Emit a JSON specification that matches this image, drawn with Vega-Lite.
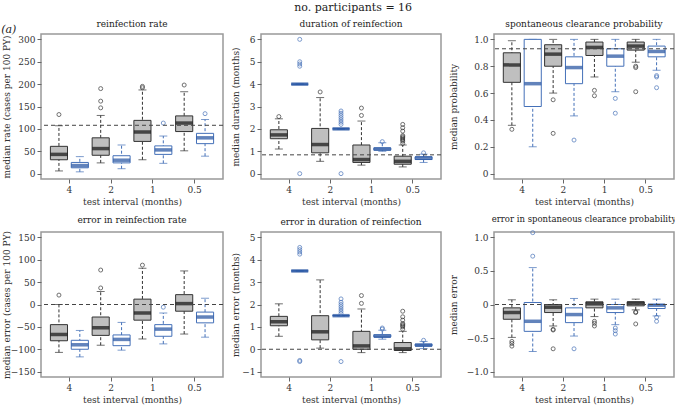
{
"$schema": "https://vega.github.io/schema/vega-lite/v6.json",
"padding": {"left": 1, "right": 2, "top": 2, "bottom": 0},
"background": "white",
"title": {"text": "no. participants = 16", "fontSize": 11, "anchor": "middle", "dx": 14, "offset": 6, "font": "'DejaVu Serif', serif", "fontWeight": "normal", "color": "#222222"},
"config": {
  "font": "'DejaVu Serif', serif",
  "view": {"stroke": "#999999", "strokeWidth": 1.5},
  "title": {"font": "'DejaVu Serif', serif", "fontSize": 9, "fontWeight": "normal", "color": "#222222", "offset": 5, "limit": 1000},
  "axis": {"labelFont": "'DejaVu Serif', serif", "titleFont": "'DejaVu Serif', serif", "labelFontSize": 9, "titleFontSize": 9, "titleFontWeight": "normal", "labelColor": "#333333", "titleColor": "#333333", "tickColor": "#666666", "domain": false, "grid": false, "tickSize": 4, "labelPadding": 2, "labelOverlap": false, "titleLimit": 1000},
  "axisX": {"titlePadding": 3}
},
"datasets": {
  "boxes": [
    {"p":"rate","iv":"4","g":"grey","lo":6,"q1":31,"med":43,"q3":61,"hi":107},
    {"p":"rate","iv":"4","g":"blue","lo":4,"q1":13,"med":18,"q3":25,"hi":38},
    {"p":"rate","iv":"2","g":"grey","lo":24,"q1":41,"med":56,"q3":80,"hi":130},
    {"p":"rate","iv":"2","g":"blue","lo":11,"q1":24,"med":30,"q3":40,"hi":64},
    {"p":"rate","iv":"1","g":"grey","lo":31,"q1":72,"med":93,"q3":119,"hi":187},
    {"p":"rate","iv":"1","g":"blue","lo":23,"q1":43,"med":53,"q3":62,"hi":84},
    {"p":"rate","iv":"0.5","g":"grey","lo":51,"q1":94,"med":113,"q3":129,"hi":183},
    {"p":"rate","iv":"0.5","g":"blue","lo":39,"q1":67,"med":80,"q3":90,"hi":121},
    {"p":"dur","iv":"4","g":"grey","lo":1.1,"q1":1.56,"med":1.73,"q3":1.96,"hi":2.45},
    {"p":"dur","iv":"4","g":"blue","lo":4,"q1":4,"med":4,"q3":4,"hi":4},
    {"p":"dur","iv":"2","g":"grey","lo":0.55,"q1":0.93,"med":1.3,"q3":2.02,"hi":3.4},
    {"p":"dur","iv":"2","g":"blue","lo":2,"q1":2,"med":2,"q3":2,"hi":2},
    {"p":"dur","iv":"1","g":"grey","lo":0.38,"q1":0.5,"med":0.63,"q3":1.28,"hi":2.35},
    {"p":"dur","iv":"1","g":"blue","lo":1.0,"q1":1.05,"med":1.1,"q3":1.15,"hi":1.38},
    {"p":"dur","iv":"0.5","g":"grey","lo":0.3,"q1":0.42,"med":0.55,"q3":0.78,"hi":1.28},
    {"p":"dur","iv":"0.5","g":"blue","lo":0.5,"q1":0.63,"med":0.7,"q3":0.75,"hi":0.87},
    {"p":"prob","iv":"4","g":"grey","lo":0.36,"q1":0.68,"med":0.81,"q3":0.9,"hi":0.99},
    {"p":"prob","iv":"4","g":"blue","lo":0.2,"q1":0.5,"med":0.67,"q3":1.0,"hi":1.0},
    {"p":"prob","iv":"2","g":"grey","lo":0.6,"q1":0.8,"med":0.89,"q3":0.96,"hi":1.0},
    {"p":"prob","iv":"2","g":"blue","lo":0.43,"q1":0.67,"med":0.79,"q3":0.87,"hi":1.0},
    {"p":"prob","iv":"1","g":"grey","lo":0.72,"q1":0.88,"med":0.94,"q3":0.98,"hi":1.0},
    {"p":"prob","iv":"1","g":"blue","lo":0.61,"q1":0.8,"med":0.875,"q3":0.93,"hi":1.0},
    {"p":"prob","iv":"0.5","g":"grey","lo":0.83,"q1":0.92,"med":0.95,"q3":0.98,"hi":1.0},
    {"p":"prob","iv":"0.5","g":"blue","lo":0.77,"q1":0.87,"med":0.91,"q3":0.95,"hi":1.0},
    {"p":"erate","iv":"4","g":"grey","lo":-107,"q1":-81,"med":-67,"q3":-45,"hi":0},
    {"p":"erate","iv":"4","g":"blue","lo":-117,"q1":-100,"med":-90,"q3":-80,"hi":-58},
    {"p":"erate","iv":"2","g":"grey","lo":-91,"q1":-69,"med":-52,"q3":-28,"hi":29},
    {"p":"erate","iv":"2","g":"blue","lo":-102,"q1":-92,"med":-78,"q3":-68,"hi":-40},
    {"p":"erate","iv":"1","g":"grey","lo":-77,"q1":-35,"med":-19,"q3":12,"hi":81},
    {"p":"erate","iv":"1","g":"blue","lo":-88,"q1":-71,"med":-55,"q3":-45,"hi":-19},
    {"p":"erate","iv":"0.5","g":"grey","lo":-66,"q1":-15,"med":2,"q3":22,"hi":75},
    {"p":"erate","iv":"0.5","g":"blue","lo":-73,"q1":-41,"med":-28,"q3":-17,"hi":14},
    {"p":"edur","iv":"4","g":"grey","lo":0.58,"q1":1.05,"med":1.23,"q3":1.47,"hi":2.03},
    {"p":"edur","iv":"4","g":"blue","lo":3.5,"q1":3.5,"med":3.5,"q3":3.5,"hi":3.5},
    {"p":"edur","iv":"2","g":"grey","lo":0.05,"q1":0.42,"med":0.78,"q3":1.5,"hi":3.1},
    {"p":"edur","iv":"2","g":"blue","lo":1.5,"q1":1.5,"med":1.5,"q3":1.5,"hi":1.5},
    {"p":"edur","iv":"1","g":"grey","lo":-0.15,"q1":0.0,"med":0.15,"q3":0.8,"hi":1.8},
    {"p":"edur","iv":"1","g":"blue","lo":0.45,"q1":0.55,"med":0.58,"q3":0.65,"hi":0.85},
    {"p":"edur","iv":"0.5","g":"grey","lo":-0.15,"q1":-0.05,"med":0.02,"q3":0.3,"hi":0.8},
    {"p":"edur","iv":"0.5","g":"blue","lo":0.03,"q1":0.15,"med":0.18,"q3":0.23,"hi":0.35},
    {"p":"eprob","iv":"4","g":"grey","lo":-0.49,"q1":-0.22,"med":-0.12,"q3":-0.05,"hi":0.07},
    {"p":"eprob","iv":"4","g":"blue","lo":-0.7,"q1":-0.4,"med":-0.25,"q3":0.03,"hi":0.55},
    {"p":"eprob","iv":"2","g":"grey","lo":-0.32,"q1":-0.12,"med":-0.04,"q3":0.0,"hi":0.07},
    {"p":"eprob","iv":"2","g":"blue","lo":-0.47,"q1":-0.27,"med":-0.15,"q3":-0.05,"hi":0.09},
    {"p":"eprob","iv":"1","g":"grey","lo":-0.18,"q1":-0.05,"med":0.01,"q3":0.04,"hi":0.08},
    {"p":"eprob","iv":"1","g":"blue","lo":-0.3,"q1":-0.12,"med":-0.05,"q3":0.0,"hi":0.08},
    {"p":"eprob","iv":"0.5","g":"grey","lo":-0.08,"q1":-0.02,"med":0.02,"q3":0.04,"hi":0.08},
    {"p":"eprob","iv":"0.5","g":"blue","lo":-0.17,"q1":-0.06,"med":-0.01,"q3":0.0,"hi":0.08}
  ],
  "outs": [
    {"p":"rate","iv":"4","g":"grey","v":132},
    {"p":"rate","iv":"2","g":"grey","v":147},{"p":"rate","iv":"2","g":"grey","v":162},{"p":"rate","iv":"2","g":"grey","v":190},
    {"p":"rate","iv":"1","g":"grey","v":192},{"p":"rate","iv":"1","g":"grey","v":195},
    {"p":"rate","iv":"1","g":"blue","v":113},
    {"p":"rate","iv":"0.5","g":"grey","v":198},
    {"p":"rate","iv":"0.5","g":"blue","v":134},
    {"p":"dur","iv":"4","g":"grey","v":2.55},
    {"p":"dur","iv":"4","g":"blue","v":0},{"p":"dur","iv":"4","g":"blue","v":4.8},{"p":"dur","iv":"4","g":"blue","v":4.9},{"p":"dur","iv":"4","g":"blue","v":5.0},{"p":"dur","iv":"4","g":"blue","v":6.0},
    {"p":"dur","iv":"2","g":"grey","v":3.65},
    {"p":"dur","iv":"2","g":"blue","v":0},{"p":"dur","iv":"2","g":"blue","v":2.2},{"p":"dur","iv":"2","g":"blue","v":2.3},{"p":"dur","iv":"2","g":"blue","v":2.4},{"p":"dur","iv":"2","g":"blue","v":2.5},{"p":"dur","iv":"2","g":"blue","v":2.6},{"p":"dur","iv":"2","g":"blue","v":2.7},{"p":"dur","iv":"2","g":"blue","v":2.8},
    {"p":"dur","iv":"1","g":"grey","v":2.6},{"p":"dur","iv":"1","g":"grey","v":2.93},
    {"p":"dur","iv":"1","g":"blue","v":1.43},
    {"p":"dur","iv":"0.5","g":"grey","v":1.35},{"p":"dur","iv":"0.5","g":"grey","v":1.45},{"p":"dur","iv":"0.5","g":"grey","v":1.5},{"p":"dur","iv":"0.5","g":"grey","v":1.55},{"p":"dur","iv":"0.5","g":"grey","v":1.6},{"p":"dur","iv":"0.5","g":"grey","v":1.65},{"p":"dur","iv":"0.5","g":"grey","v":1.7},{"p":"dur","iv":"0.5","g":"grey","v":1.9},{"p":"dur","iv":"0.5","g":"grey","v":2.05},{"p":"dur","iv":"0.5","g":"grey","v":2.2},
    {"p":"dur","iv":"0.5","g":"blue","v":0.93},
    {"p":"prob","iv":"4","g":"grey","v":0.33},
    {"p":"prob","iv":"2","g":"grey","v":0.55},{"p":"prob","iv":"2","g":"grey","v":0.3},
    {"p":"prob","iv":"2","g":"blue","v":0.25},
    {"p":"prob","iv":"1","g":"grey","v":0.62},{"p":"prob","iv":"1","g":"grey","v":0.58},
    {"p":"prob","iv":"1","g":"blue","v":0.56},{"p":"prob","iv":"1","g":"blue","v":0.45},
    {"p":"prob","iv":"0.5","g":"grey","v":0.79},{"p":"prob","iv":"0.5","g":"grey","v":0.8},{"p":"prob","iv":"0.5","g":"grey","v":0.61},
    {"p":"prob","iv":"0.5","g":"blue","v":0.72},{"p":"prob","iv":"0.5","g":"blue","v":0.73},{"p":"prob","iv":"0.5","g":"blue","v":0.64},
    {"p":"erate","iv":"4","g":"grey","v":21},
    {"p":"erate","iv":"2","g":"grey","v":37},{"p":"erate","iv":"2","g":"grey","v":77},
    {"p":"erate","iv":"1","g":"grey","v":88},
    {"p":"erate","iv":"1","g":"blue","v":-6},
    {"p":"edur","iv":"4","g":"blue","v":4.25},{"p":"edur","iv":"4","g":"blue","v":4.35},{"p":"edur","iv":"4","g":"blue","v":4.45},{"p":"edur","iv":"4","g":"blue","v":4.55},{"p":"edur","iv":"4","g":"blue","v":-0.5},{"p":"edur","iv":"4","g":"blue","v":-0.55},
    {"p":"edur","iv":"2","g":"blue","v":1.6},{"p":"edur","iv":"2","g":"blue","v":1.7},{"p":"edur","iv":"2","g":"blue","v":1.8},{"p":"edur","iv":"2","g":"blue","v":1.9},{"p":"edur","iv":"2","g":"blue","v":2.0},{"p":"edur","iv":"2","g":"blue","v":2.1},{"p":"edur","iv":"2","g":"blue","v":2.25},{"p":"edur","iv":"2","g":"blue","v":-0.55},
    {"p":"edur","iv":"1","g":"grey","v":2.05},{"p":"edur","iv":"1","g":"grey","v":2.4},
    {"p":"edur","iv":"1","g":"blue","v":0.9},{"p":"edur","iv":"1","g":"blue","v":0.95},
    {"p":"edur","iv":"0.5","g":"grey","v":0.9},{"p":"edur","iv":"0.5","g":"grey","v":1.0},{"p":"edur","iv":"0.5","g":"grey","v":1.05},{"p":"edur","iv":"0.5","g":"grey","v":1.1},{"p":"edur","iv":"0.5","g":"grey","v":1.15},{"p":"edur","iv":"0.5","g":"grey","v":1.3},{"p":"edur","iv":"0.5","g":"grey","v":1.45},{"p":"edur","iv":"0.5","g":"grey","v":1.7},
    {"p":"edur","iv":"0.5","g":"blue","v":0.4},
    {"p":"eprob","iv":"4","g":"grey","v":-0.55},{"p":"eprob","iv":"4","g":"grey","v":-0.58},{"p":"eprob","iv":"4","g":"grey","v":-0.62},
    {"p":"eprob","iv":"4","g":"blue","v":0.72},{"p":"eprob","iv":"4","g":"blue","v":1.07},
    {"p":"eprob","iv":"2","g":"grey","v":-0.37},{"p":"eprob","iv":"2","g":"grey","v":-0.38},{"p":"eprob","iv":"2","g":"grey","v":-0.66},
    {"p":"eprob","iv":"2","g":"blue","v":-0.66},
    {"p":"eprob","iv":"1","g":"grey","v":-0.25},{"p":"eprob","iv":"1","g":"grey","v":-0.28},{"p":"eprob","iv":"1","g":"grey","v":-0.32},
    {"p":"eprob","iv":"1","g":"blue","v":-0.35},{"p":"eprob","iv":"1","g":"blue","v":-0.39},{"p":"eprob","iv":"1","g":"blue","v":-0.44},
    {"p":"eprob","iv":"0.5","g":"grey","v":-0.11},{"p":"eprob","iv":"0.5","g":"grey","v":-0.12},{"p":"eprob","iv":"0.5","g":"grey","v":-0.29},
    {"p":"eprob","iv":"0.5","g":"blue","v":-0.19},{"p":"eprob","iv":"0.5","g":"blue","v":-0.25}
  ],
  "refs": [
    {"p":"rate","ref":108},{"p":"dur","ref":0.84},{"p":"prob","ref":0.93},
    {"p":"erate","ref":0},{"p":"edur","ref":0},{"p":"eprob","ref":0}
  ]
},
"spacing": 7,
"vconcat": [
 {"title": {"text": "(a)", "anchor": "start", "fontStyle": "italic", "fontSize": 11, "offset": -16},
  "spacing": 5,
  "hconcat": [
   {"width": 182, "height": 145, "title": {"text": "reinfection rate", "frame": "group", "limit": 400},
    "layer": [
     {"data":{"name":"boxes"},"transform":[{"filter":"datum.p==='rate'"}],"mark":{"type":"rule","strokeDash":[3,2],"strokeWidth":1},
      "encoding":{"x":{"field":"iv","type":"nominal","sort":["4","2","1","0.5"],"scale":{"paddingInner":0,"paddingOuter":0.18},"axis":{"title":"test interval (months)","labelAngle":0}},
       "xOffset":{"field":"g","type":"nominal","sort":["grey","blue"],"scale":{"paddingInner":0.18,"paddingOuter":0.09}},
       "y":{"field":"lo","type":"quantitative","scale":{"domain":[-12,312],"nice":false,"zero":false},"axis":{"values":[0,50,100,150,200,250,300],"format":"d","tickCount":20,"labelOverlap":false,"title":"median rate (cases per 100 PY)","minExtent":30,"maxExtent":30,"titlePadding":0}},
       "y2":{"field":"hi"},
       "stroke":{"condition":{"test":"datum.g==='grey'","value":"#333333"},"value":"#4470b8"}}},
     {"data":{"name":"boxes"},"transform":[{"filter":"datum.p==='rate'"}],"mark":{"type":"tick","orient":"horizontal","size":8,"thickness":1},
      "encoding":{"x":{"field":"iv","type":"nominal","sort":["4","2","1","0.5"]},"xOffset":{"field":"g","type":"nominal","sort":["grey","blue"]},
       "y":{"field":"lo","type":"quantitative"},"color":{"condition":{"test":"datum.g==='grey'","value":"#333333"},"value":"#4470b8"}}},
     {"data":{"name":"boxes"},"transform":[{"filter":"datum.p==='rate'"}],"mark":{"type":"tick","orient":"horizontal","size":8,"thickness":1},
      "encoding":{"x":{"field":"iv","type":"nominal","sort":["4","2","1","0.5"]},"xOffset":{"field":"g","type":"nominal","sort":["grey","blue"]},
       "y":{"field":"hi","type":"quantitative"},"color":{"condition":{"test":"datum.g==='grey'","value":"#333333"},"value":"#4470b8"}}},
     {"data":{"name":"boxes"},"transform":[{"filter":"datum.p==='rate'"}],"mark":{"type":"bar","strokeWidth":1},
      "encoding":{"x":{"field":"iv","type":"nominal","sort":["4","2","1","0.5"]},"xOffset":{"field":"g","type":"nominal","sort":["grey","blue"]},
       "y":{"field":"q1","type":"quantitative"},"y2":{"field":"q3"},
       "fill":{"condition":{"test":"datum.g==='grey'","value":"#bfbfbf"},"value":"#ffffff"},
       "stroke":{"condition":{"test":"datum.g==='grey'","value":"#333333"},"value":"#4470b8"}}},
     {"data":{"name":"boxes"},"transform":[{"filter":"datum.p==='rate'"}],"mark":{"type":"tick","orient":"horizontal","size":17,"thickness":3.5},
      "encoding":{"x":{"field":"iv","type":"nominal","sort":["4","2","1","0.5"]},"xOffset":{"field":"g","type":"nominal","sort":["grey","blue"]},
       "y":{"field":"med","type":"quantitative"},"color":{"condition":{"test":"datum.g==='grey'","value":"#111111"},"value":"#1f4f9e"}}},
     {"data":{"name":"outs"},"transform":[{"filter":"datum.p==='rate'"}],"mark":{"type":"point","shape":"circle","filled":false,"size":16,"strokeWidth":1},
      "encoding":{"x":{"field":"iv","type":"nominal","sort":["4","2","1","0.5"]},"xOffset":{"field":"g","type":"nominal","sort":["grey","blue"]},
       "y":{"field":"v","type":"quantitative"},"color":{"condition":{"test":"datum.g==='grey'","value":"#333333"},"value":"#4470b8"}}},
     {"data":{"name":"refs"},"transform":[{"filter":"datum.p==='rate'"}],"mark":{"type":"rule","strokeDash":[4,3],"color":"#444444","strokeWidth":1},
      "encoding":{"y":{"field":"ref","type":"quantitative"}}}
    ]},
   {"width": 180, "height": 145, "title": {"text": "duration of reinfection", "frame": "group", "limit": 400},
    "layer": [
     {"data":{"name":"boxes"},"transform":[{"filter":"datum.p==='dur'"}],"mark":{"type":"rule","strokeDash":[3,2],"strokeWidth":1},
      "encoding":{"x":{"field":"iv","type":"nominal","sort":["4","2","1","0.5"],"scale":{"paddingInner":0,"paddingOuter":0.18},"axis":{"title":"test interval (months)","labelAngle":0}},
       "xOffset":{"field":"g","type":"nominal","sort":["grey","blue"],"scale":{"paddingInner":0.18,"paddingOuter":0.09}},
       "y":{"field":"lo","type":"quantitative","scale":{"domain":[-0.24,6.24],"nice":false,"zero":false},"axis":{"values":[0,1,2,3,4,5,6],"format":"d","tickCount":20,"labelOverlap":false,"title":"median duration (months)","minExtent":20,"maxExtent":20,"titlePadding":1}},
       "y2":{"field":"hi"},
       "stroke":{"condition":{"test":"datum.g==='grey'","value":"#333333"},"value":"#4470b8"}}},
     {"data":{"name":"boxes"},"transform":[{"filter":"datum.p==='dur'"}],"mark":{"type":"tick","orient":"horizontal","size":8,"thickness":1},
      "encoding":{"x":{"field":"iv","type":"nominal","sort":["4","2","1","0.5"]},"xOffset":{"field":"g","type":"nominal","sort":["grey","blue"]},
       "y":{"field":"lo","type":"quantitative"},"color":{"condition":{"test":"datum.g==='grey'","value":"#333333"},"value":"#4470b8"}}},
     {"data":{"name":"boxes"},"transform":[{"filter":"datum.p==='dur'"}],"mark":{"type":"tick","orient":"horizontal","size":8,"thickness":1},
      "encoding":{"x":{"field":"iv","type":"nominal","sort":["4","2","1","0.5"]},"xOffset":{"field":"g","type":"nominal","sort":["grey","blue"]},
       "y":{"field":"hi","type":"quantitative"},"color":{"condition":{"test":"datum.g==='grey'","value":"#333333"},"value":"#4470b8"}}},
     {"data":{"name":"boxes"},"transform":[{"filter":"datum.p==='dur'"}],"mark":{"type":"bar","strokeWidth":1},
      "encoding":{"x":{"field":"iv","type":"nominal","sort":["4","2","1","0.5"]},"xOffset":{"field":"g","type":"nominal","sort":["grey","blue"]},
       "y":{"field":"q1","type":"quantitative"},"y2":{"field":"q3"},
       "fill":{"condition":{"test":"datum.g==='grey'","value":"#bfbfbf"},"value":"#ffffff"},
       "stroke":{"condition":{"test":"datum.g==='grey'","value":"#333333"},"value":"#4470b8"}}},
     {"data":{"name":"boxes"},"transform":[{"filter":"datum.p==='dur'"}],"mark":{"type":"tick","orient":"horizontal","size":17,"thickness":3.5},
      "encoding":{"x":{"field":"iv","type":"nominal","sort":["4","2","1","0.5"]},"xOffset":{"field":"g","type":"nominal","sort":["grey","blue"]},
       "y":{"field":"med","type":"quantitative"},"color":{"condition":{"test":"datum.g==='grey'","value":"#111111"},"value":"#1f4f9e"}}},
     {"data":{"name":"outs"},"transform":[{"filter":"datum.p==='dur'"}],"mark":{"type":"point","shape":"circle","filled":false,"size":16,"strokeWidth":1},
      "encoding":{"x":{"field":"iv","type":"nominal","sort":["4","2","1","0.5"]},"xOffset":{"field":"g","type":"nominal","sort":["grey","blue"]},
       "y":{"field":"v","type":"quantitative"},"color":{"condition":{"test":"datum.g==='grey'","value":"#333333"},"value":"#4470b8"}}},
     {"data":{"name":"refs"},"transform":[{"filter":"datum.p==='dur'"}],"mark":{"type":"rule","strokeDash":[4,3],"color":"#444444","strokeWidth":1},
      "encoding":{"y":{"field":"ref","type":"quantitative"}}}
    ]},
   {"width": 180, "height": 145, "title": {"text": "spontaneous clearance probability", "frame": "group", "limit": 400},
    "layer": [
     {"data":{"name":"boxes"},"transform":[{"filter":"datum.p==='prob'"}],"mark":{"type":"rule","strokeDash":[3,2],"strokeWidth":1},
      "encoding":{"x":{"field":"iv","type":"nominal","sort":["4","2","1","0.5"],"scale":{"paddingInner":0,"paddingOuter":0.18},"axis":{"title":"test interval (months)","labelAngle":0}},
       "xOffset":{"field":"g","type":"nominal","sort":["grey","blue"],"scale":{"paddingInner":0.18,"paddingOuter":0.09}},
       "y":{"field":"lo","type":"quantitative","scale":{"domain":[-0.04,1.04],"nice":false,"zero":false},"axis":{"values":[0,0.2,0.4,0.6,0.8,1],"tickCount":20,"labelOverlap":false,"labelExpr":"datum.value === 0 ? '0' : format(datum.value, '.1f')","title":"median probability","minExtent":28,"maxExtent":28,"titlePadding":8}},
       "y2":{"field":"hi"},
       "stroke":{"condition":{"test":"datum.g==='grey'","value":"#333333"},"value":"#4470b8"}}},
     {"data":{"name":"boxes"},"transform":[{"filter":"datum.p==='prob'"}],"mark":{"type":"tick","orient":"horizontal","size":8,"thickness":1},
      "encoding":{"x":{"field":"iv","type":"nominal","sort":["4","2","1","0.5"]},"xOffset":{"field":"g","type":"nominal","sort":["grey","blue"]},
       "y":{"field":"lo","type":"quantitative"},"color":{"condition":{"test":"datum.g==='grey'","value":"#333333"},"value":"#4470b8"}}},
     {"data":{"name":"boxes"},"transform":[{"filter":"datum.p==='prob'"}],"mark":{"type":"tick","orient":"horizontal","size":8,"thickness":1},
      "encoding":{"x":{"field":"iv","type":"nominal","sort":["4","2","1","0.5"]},"xOffset":{"field":"g","type":"nominal","sort":["grey","blue"]},
       "y":{"field":"hi","type":"quantitative"},"color":{"condition":{"test":"datum.g==='grey'","value":"#333333"},"value":"#4470b8"}}},
     {"data":{"name":"boxes"},"transform":[{"filter":"datum.p==='prob'"}],"mark":{"type":"bar","strokeWidth":1},
      "encoding":{"x":{"field":"iv","type":"nominal","sort":["4","2","1","0.5"]},"xOffset":{"field":"g","type":"nominal","sort":["grey","blue"]},
       "y":{"field":"q1","type":"quantitative"},"y2":{"field":"q3"},
       "fill":{"condition":{"test":"datum.g==='grey'","value":"#bfbfbf"},"value":"#ffffff"},
       "stroke":{"condition":{"test":"datum.g==='grey'","value":"#333333"},"value":"#4470b8"}}},
     {"data":{"name":"boxes"},"transform":[{"filter":"datum.p==='prob'"}],"mark":{"type":"tick","orient":"horizontal","size":17,"thickness":3.5},
      "encoding":{"x":{"field":"iv","type":"nominal","sort":["4","2","1","0.5"]},"xOffset":{"field":"g","type":"nominal","sort":["grey","blue"]},
       "y":{"field":"med","type":"quantitative"},"color":{"condition":{"test":"datum.g==='grey'","value":"#111111"},"value":"#1f4f9e"}}},
     {"data":{"name":"outs"},"transform":[{"filter":"datum.p==='prob'"}],"mark":{"type":"point","shape":"circle","filled":false,"size":16,"strokeWidth":1},
      "encoding":{"x":{"field":"iv","type":"nominal","sort":["4","2","1","0.5"]},"xOffset":{"field":"g","type":"nominal","sort":["grey","blue"]},
       "y":{"field":"v","type":"quantitative"},"color":{"condition":{"test":"datum.g==='grey'","value":"#333333"},"value":"#4470b8"}}},
     {"data":{"name":"refs"},"transform":[{"filter":"datum.p==='prob'"}],"mark":{"type":"rule","strokeDash":[4,3],"color":"#444444","strokeWidth":1},
      "encoding":{"y":{"field":"ref","type":"quantitative"}}}
    ]}
  ]},
 {"spacing": 5,
  "hconcat": [
   {"width": 182, "height": 145, "title": {"text": "error in reinfection rate", "frame": "group", "limit": 400},
    "layer": [
     {"data":{"name":"boxes"},"transform":[{"filter":"datum.p==='erate'"}],"mark":{"type":"rule","strokeDash":[3,2],"strokeWidth":1},
      "encoding":{"x":{"field":"iv","type":"nominal","sort":["4","2","1","0.5"],"scale":{"paddingInner":0,"paddingOuter":0.18},"axis":{"title":"test interval (months)","labelAngle":0}},
       "xOffset":{"field":"g","type":"nominal","sort":["grey","blue"],"scale":{"paddingInner":0.18,"paddingOuter":0.09}},
       "y":{"field":"lo","type":"quantitative","scale":{"domain":[-162,162],"nice":false,"zero":false},"axis":{"values":[-150,-100,-50,0,50,100,150],"format":"d","tickCount":20,"labelOverlap":false,"title":"median error (cases per 100 PY)","minExtent":30,"maxExtent":30,"titlePadding":0}},
       "y2":{"field":"hi"},
       "stroke":{"condition":{"test":"datum.g==='grey'","value":"#333333"},"value":"#4470b8"}}},
     {"data":{"name":"boxes"},"transform":[{"filter":"datum.p==='erate'"}],"mark":{"type":"tick","orient":"horizontal","size":8,"thickness":1},
      "encoding":{"x":{"field":"iv","type":"nominal","sort":["4","2","1","0.5"]},"xOffset":{"field":"g","type":"nominal","sort":["grey","blue"]},
       "y":{"field":"lo","type":"quantitative"},"color":{"condition":{"test":"datum.g==='grey'","value":"#333333"},"value":"#4470b8"}}},
     {"data":{"name":"boxes"},"transform":[{"filter":"datum.p==='erate'"}],"mark":{"type":"tick","orient":"horizontal","size":8,"thickness":1},
      "encoding":{"x":{"field":"iv","type":"nominal","sort":["4","2","1","0.5"]},"xOffset":{"field":"g","type":"nominal","sort":["grey","blue"]},
       "y":{"field":"hi","type":"quantitative"},"color":{"condition":{"test":"datum.g==='grey'","value":"#333333"},"value":"#4470b8"}}},
     {"data":{"name":"boxes"},"transform":[{"filter":"datum.p==='erate'"}],"mark":{"type":"bar","strokeWidth":1},
      "encoding":{"x":{"field":"iv","type":"nominal","sort":["4","2","1","0.5"]},"xOffset":{"field":"g","type":"nominal","sort":["grey","blue"]},
       "y":{"field":"q1","type":"quantitative"},"y2":{"field":"q3"},
       "fill":{"condition":{"test":"datum.g==='grey'","value":"#bfbfbf"},"value":"#ffffff"},
       "stroke":{"condition":{"test":"datum.g==='grey'","value":"#333333"},"value":"#4470b8"}}},
     {"data":{"name":"boxes"},"transform":[{"filter":"datum.p==='erate'"}],"mark":{"type":"tick","orient":"horizontal","size":17,"thickness":3.5},
      "encoding":{"x":{"field":"iv","type":"nominal","sort":["4","2","1","0.5"]},"xOffset":{"field":"g","type":"nominal","sort":["grey","blue"]},
       "y":{"field":"med","type":"quantitative"},"color":{"condition":{"test":"datum.g==='grey'","value":"#111111"},"value":"#1f4f9e"}}},
     {"data":{"name":"outs"},"transform":[{"filter":"datum.p==='erate'"}],"mark":{"type":"point","shape":"circle","filled":false,"size":16,"strokeWidth":1},
      "encoding":{"x":{"field":"iv","type":"nominal","sort":["4","2","1","0.5"]},"xOffset":{"field":"g","type":"nominal","sort":["grey","blue"]},
       "y":{"field":"v","type":"quantitative"},"color":{"condition":{"test":"datum.g==='grey'","value":"#333333"},"value":"#4470b8"}}},
     {"data":{"name":"refs"},"transform":[{"filter":"datum.p==='erate'"}],"mark":{"type":"rule","strokeDash":[4,3],"color":"#444444","strokeWidth":1},
      "encoding":{"y":{"field":"ref","type":"quantitative"}}}
    ]},
   {"width": 180, "height": 145, "title": {"text": "error in duration of reinfection", "frame": "group", "limit": 400},
    "layer": [
     {"data":{"name":"boxes"},"transform":[{"filter":"datum.p==='edur'"}],"mark":{"type":"rule","strokeDash":[3,2],"strokeWidth":1},
      "encoding":{"x":{"field":"iv","type":"nominal","sort":["4","2","1","0.5"],"scale":{"paddingInner":0,"paddingOuter":0.18},"axis":{"title":"test interval (months)","labelAngle":0}},
       "xOffset":{"field":"g","type":"nominal","sort":["grey","blue"],"scale":{"paddingInner":0.18,"paddingOuter":0.09}},
       "y":{"field":"lo","type":"quantitative","scale":{"domain":[-1.24,5.24],"nice":false,"zero":false},"axis":{"values":[-1,0,1,2,3,4,5],"format":"d","tickCount":20,"labelOverlap":false,"title":"median error (months)","minExtent":20,"maxExtent":20,"titlePadding":1}},
       "y2":{"field":"hi"},
       "stroke":{"condition":{"test":"datum.g==='grey'","value":"#333333"},"value":"#4470b8"}}},
     {"data":{"name":"boxes"},"transform":[{"filter":"datum.p==='edur'"}],"mark":{"type":"tick","orient":"horizontal","size":8,"thickness":1},
      "encoding":{"x":{"field":"iv","type":"nominal","sort":["4","2","1","0.5"]},"xOffset":{"field":"g","type":"nominal","sort":["grey","blue"]},
       "y":{"field":"lo","type":"quantitative"},"color":{"condition":{"test":"datum.g==='grey'","value":"#333333"},"value":"#4470b8"}}},
     {"data":{"name":"boxes"},"transform":[{"filter":"datum.p==='edur'"}],"mark":{"type":"tick","orient":"horizontal","size":8,"thickness":1},
      "encoding":{"x":{"field":"iv","type":"nominal","sort":["4","2","1","0.5"]},"xOffset":{"field":"g","type":"nominal","sort":["grey","blue"]},
       "y":{"field":"hi","type":"quantitative"},"color":{"condition":{"test":"datum.g==='grey'","value":"#333333"},"value":"#4470b8"}}},
     {"data":{"name":"boxes"},"transform":[{"filter":"datum.p==='edur'"}],"mark":{"type":"bar","strokeWidth":1},
      "encoding":{"x":{"field":"iv","type":"nominal","sort":["4","2","1","0.5"]},"xOffset":{"field":"g","type":"nominal","sort":["grey","blue"]},
       "y":{"field":"q1","type":"quantitative"},"y2":{"field":"q3"},
       "fill":{"condition":{"test":"datum.g==='grey'","value":"#bfbfbf"},"value":"#ffffff"},
       "stroke":{"condition":{"test":"datum.g==='grey'","value":"#333333"},"value":"#4470b8"}}},
     {"data":{"name":"boxes"},"transform":[{"filter":"datum.p==='edur'"}],"mark":{"type":"tick","orient":"horizontal","size":17,"thickness":3.5},
      "encoding":{"x":{"field":"iv","type":"nominal","sort":["4","2","1","0.5"]},"xOffset":{"field":"g","type":"nominal","sort":["grey","blue"]},
       "y":{"field":"med","type":"quantitative"},"color":{"condition":{"test":"datum.g==='grey'","value":"#111111"},"value":"#1f4f9e"}}},
     {"data":{"name":"outs"},"transform":[{"filter":"datum.p==='edur'"}],"mark":{"type":"point","shape":"circle","filled":false,"size":16,"strokeWidth":1},
      "encoding":{"x":{"field":"iv","type":"nominal","sort":["4","2","1","0.5"]},"xOffset":{"field":"g","type":"nominal","sort":["grey","blue"]},
       "y":{"field":"v","type":"quantitative"},"color":{"condition":{"test":"datum.g==='grey'","value":"#333333"},"value":"#4470b8"}}},
     {"data":{"name":"refs"},"transform":[{"filter":"datum.p==='edur'"}],"mark":{"type":"rule","strokeDash":[4,3],"color":"#444444","strokeWidth":1},
      "encoding":{"y":{"field":"ref","type":"quantitative"}}}
    ]},
   {"width": 180, "height": 145, "title": {"text": "error in spontaneous clearance probability", "frame": "group", "limit": 400, "fontSize": 8.5},
    "layer": [
     {"data":{"name":"boxes"},"transform":[{"filter":"datum.p==='eprob'"}],"mark":{"type":"rule","strokeDash":[3,2],"strokeWidth":1},
      "encoding":{"x":{"field":"iv","type":"nominal","sort":["4","2","1","0.5"],"scale":{"paddingInner":0,"paddingOuter":0.18},"axis":{"title":"test interval (months)","labelAngle":0}},
       "xOffset":{"field":"g","type":"nominal","sort":["grey","blue"],"scale":{"paddingInner":0.18,"paddingOuter":0.09}},
       "y":{"field":"lo","type":"quantitative","scale":{"domain":[-1.08,1.08],"nice":false,"zero":false},"axis":{"values":[-1,-0.5,0,0.5,1],"tickCount":20,"labelOverlap":false,"labelExpr":"datum.value === 0 ? '0' : format(datum.value, '.1f')","title":"median error","minExtent":28,"maxExtent":28,"titlePadding":8}},
       "y2":{"field":"hi"},
       "stroke":{"condition":{"test":"datum.g==='grey'","value":"#333333"},"value":"#4470b8"}}},
     {"data":{"name":"boxes"},"transform":[{"filter":"datum.p==='eprob'"}],"mark":{"type":"tick","orient":"horizontal","size":8,"thickness":1},
      "encoding":{"x":{"field":"iv","type":"nominal","sort":["4","2","1","0.5"]},"xOffset":{"field":"g","type":"nominal","sort":["grey","blue"]},
       "y":{"field":"lo","type":"quantitative"},"color":{"condition":{"test":"datum.g==='grey'","value":"#333333"},"value":"#4470b8"}}},
     {"data":{"name":"boxes"},"transform":[{"filter":"datum.p==='eprob'"}],"mark":{"type":"tick","orient":"horizontal","size":8,"thickness":1},
      "encoding":{"x":{"field":"iv","type":"nominal","sort":["4","2","1","0.5"]},"xOffset":{"field":"g","type":"nominal","sort":["grey","blue"]},
       "y":{"field":"hi","type":"quantitative"},"color":{"condition":{"test":"datum.g==='grey'","value":"#333333"},"value":"#4470b8"}}},
     {"data":{"name":"boxes"},"transform":[{"filter":"datum.p==='eprob'"}],"mark":{"type":"bar","strokeWidth":1},
      "encoding":{"x":{"field":"iv","type":"nominal","sort":["4","2","1","0.5"]},"xOffset":{"field":"g","type":"nominal","sort":["grey","blue"]},
       "y":{"field":"q1","type":"quantitative"},"y2":{"field":"q3"},
       "fill":{"condition":{"test":"datum.g==='grey'","value":"#bfbfbf"},"value":"#ffffff"},
       "stroke":{"condition":{"test":"datum.g==='grey'","value":"#333333"},"value":"#4470b8"}}},
     {"data":{"name":"boxes"},"transform":[{"filter":"datum.p==='eprob'"}],"mark":{"type":"tick","orient":"horizontal","size":17,"thickness":3.5},
      "encoding":{"x":{"field":"iv","type":"nominal","sort":["4","2","1","0.5"]},"xOffset":{"field":"g","type":"nominal","sort":["grey","blue"]},
       "y":{"field":"med","type":"quantitative"},"color":{"condition":{"test":"datum.g==='grey'","value":"#111111"},"value":"#1f4f9e"}}},
     {"data":{"name":"outs"},"transform":[{"filter":"datum.p==='eprob'"}],"mark":{"type":"point","shape":"circle","filled":false,"size":16,"strokeWidth":1},
      "encoding":{"x":{"field":"iv","type":"nominal","sort":["4","2","1","0.5"]},"xOffset":{"field":"g","type":"nominal","sort":["grey","blue"]},
       "y":{"field":"v","type":"quantitative"},"color":{"condition":{"test":"datum.g==='grey'","value":"#333333"},"value":"#4470b8"}}},
     {"data":{"name":"refs"},"transform":[{"filter":"datum.p==='eprob'"}],"mark":{"type":"rule","strokeDash":[4,3],"color":"#444444","strokeWidth":1},
      "encoding":{"y":{"field":"ref","type":"quantitative"}}}
    ]}
  ]}
]
}
